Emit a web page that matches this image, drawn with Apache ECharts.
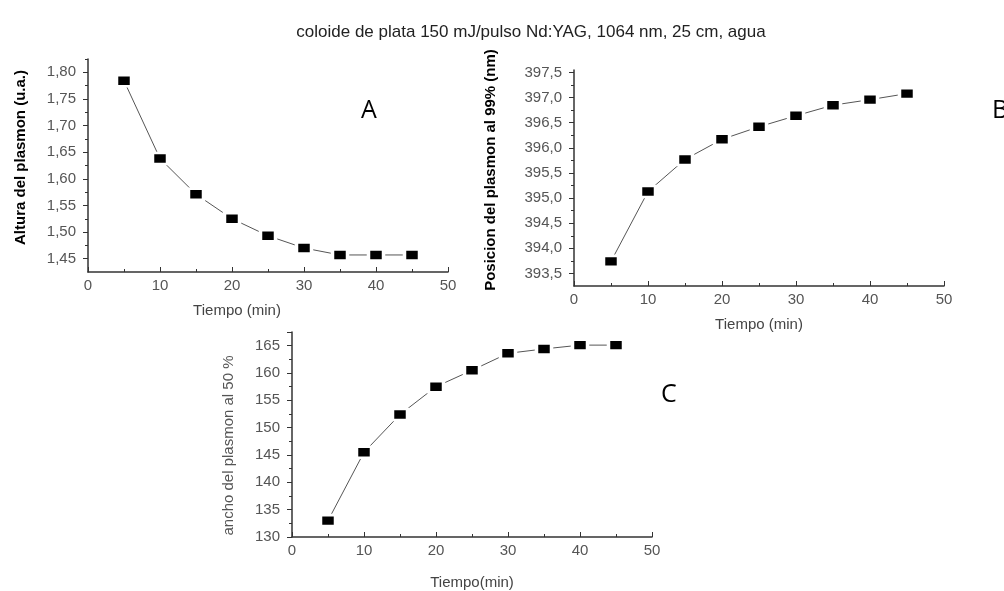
<!DOCTYPE html>
<html>
<head>
<meta charset="utf-8">
<script src="https://cdn.jsdelivr.net/npm/echarts@6/dist/echarts.min.js"></script>
<style>
  html, body { margin: 0; padding: 0; background: #fff; }
  #main { width: 1004px; height: 591px; }
</style>
</head>
<body>
<div id="main"></div>
<script>
// tiempos (min), same for all three panels
const tiempo = [5, 10, 15, 20, 25, 30, 35, 40, 45];

// A: altura del plasmon (u.a.)
const alturaA = [1.784, 1.638, 1.571, 1.525, 1.493, 1.470, 1.457, 1.457, 1.457];
// B: posicion del plasmon al 99% (nm)
const posicionB = [393.74, 395.13, 395.77, 396.17, 396.42, 396.64, 396.85, 396.96, 397.08];
// C: ancho del plasmon al 50 %
const anchoC = [133.0, 145.5, 152.4, 157.5, 160.5, 163.6, 164.4, 165.1, 165.1];

// tick values
const ticksA = [1.45, 1.50, 1.55, 1.60, 1.65, 1.70, 1.75, 1.80];
const minorA = [1.475, 1.525, 1.575, 1.625, 1.675, 1.725, 1.775, 1.825];
const ticksB = [393.5, 394.0, 394.5, 395.0, 395.5, 396.0, 396.5, 397.0, 397.5];
const minorB = [393.75, 394.25, 394.75, 395.25, 395.75, 396.25, 396.75, 397.25];

const chart = echarts.init(document.getElementById('main'));

const axisCol = '#333';
const labelCol = '#555';
const fontFam = '"Liberation Sans", Arial, sans-serif';

function xAxisFor(gridIndex, name, nameGap, padding) {
  return {
    type: 'value', gridIndex, min: 0, max: 50, interval: 10,
    name, nameLocation: 'middle', nameGap,
    nameTextStyle: { color: '#444', fontSize: 15, fontFamily: fontFam, padding: padding || 0 },
    axisLine: { lineStyle: { color: axisCol, width: 1.5 } },
    axisTick: { inside: true, length: 5, lineStyle: { color: axisCol } },
    minorTick: { show: true, splitNumber: 2, length: 3, lineStyle: { color: axisCol } },
    axisLabel: { color: labelCol, fontSize: 15, fontFamily: fontFam, margin: 6 },
    splitLine: { show: false }
  };
}

function yLabels(dec) {
  return v => v.toFixed(dec).replace('.', ',');
}

const series = (xi, yi, data) => ({
  type: 'line', xAxisIndex: xi, yAxisIndex: yi,
  data: tiempo.map((t, i) => [t, data[i]]),
  symbol: 'rect', symbolSize: [15, 11],
  itemStyle: { color: '#000', borderColor: '#fff', borderWidth: 3 },
  lineStyle: { color: '#555', width: 1 },
  animation: false
});

const option = {
  animation: false,
  title: [
    { text: 'coloide de plata 150 mJ/pulso Nd:YAG, 1064 nm, 25 cm, agua', left: 526, top: 19, textAlign: 'center',
      textStyle: { fontSize: 17, fontWeight: 'normal', color: '#222', fontFamily: fontFam } },
    { text: 'A', left: 356, top: 93, textStyle: { fontSize: 25, fontWeight: 'normal', color: '#000', fontFamily: '"Open Sans", sans-serif' } },
    { text: 'B', left: 987, top: 93, textStyle: { fontSize: 25, fontWeight: 'normal', color: '#000', fontFamily: '"Open Sans", sans-serif' } },
    { text: 'C', left: 656, top: 377, textStyle: { fontSize: 25, fontWeight: 'normal', color: '#000', fontFamily: '"Open Sans", sans-serif' } }
  ],
  grid: [
    { left: 88, top: 59, width: 360, height: 213 },
    { left: 574, top: 70, width: 370, height: 216 },
    { left: 292, top: 332, width: 360, height: 211 }
  ],
  xAxis: [
    xAxisFor(0, 'Tiempo (min)', 31, [0, 62, 0, 0]),
    xAxisFor(1, 'Tiempo (min)', 31),
    xAxisFor(2, 'Tiempo(min)', 38)
  ],
  yAxis: [
    {
      type: 'value', gridIndex: 0, position: 'left', min: 1.425, max: 1.825,
      name: 'Altura del plasmon (u.a.)', nameLocation: 'middle', nameGap: 60,
      nameTextStyle: { color: '#000', fontSize: 15, fontWeight: 'bold', fontFamily: fontFam, padding: [0, 0, 0, 16] },
      axisLine: { lineStyle: { color: axisCol, width: 1.5 } },
      axisTick: { length: 5, customValues: ticksA, lineStyle: { color: axisCol } },
      axisLabel: { customValues: ticksA, formatter: yLabels(2), color: labelCol, fontSize: 15, fontFamily: fontFam, margin: 12 },
      splitLine: { show: false }
    },
    {
      type: 'value', gridIndex: 0, position: 'left', offset: 0, min: 1.425, max: 1.825,
      axisLine: { show: false },
      axisTick: { length: 3, customValues: minorA, lineStyle: { color: axisCol } },
      axisLabel: { show: false }, splitLine: { show: false }
    },
    {
      type: 'value', gridIndex: 1, position: 'left', min: 393.25, max: 397.55,
      name: 'Posicion del plasmon al 99% (nm)', nameLocation: 'middle', nameGap: 76,
      nameTextStyle: { color: '#000', fontSize: 15, fontWeight: 'bold', fontFamily: fontFam, padding: [0, 0, 0, 16] },
      axisLine: { lineStyle: { color: axisCol, width: 1.5 } },
      axisTick: { length: 5, customValues: ticksB, lineStyle: { color: axisCol } },
      axisLabel: { customValues: ticksB, formatter: yLabels(1), color: labelCol, fontSize: 15, fontFamily: fontFam, margin: 12 },
      splitLine: { show: false }
    },
    {
      type: 'value', gridIndex: 1, position: 'left', offset: 0, min: 393.25, max: 397.55,
      axisLine: { show: false },
      axisTick: { length: 3, customValues: minorB, lineStyle: { color: axisCol } },
      axisLabel: { show: false }, splitLine: { show: false }
    },
    {
      type: 'value', gridIndex: 2, position: 'left', min: 130, max: 167.5, interval: 5,
      name: 'ancho del plasmon al 50 %', nameLocation: 'middle', nameGap: 56,
      nameTextStyle: { color: '#555', fontSize: 15, fontFamily: fontFam, padding: [0, 22, 0, 0] },
      axisLine: { lineStyle: { color: axisCol, width: 1.5 } },
      axisTick: { length: 5, lineStyle: { color: axisCol } },
      minorTick: { show: true, splitNumber: 2, length: 3, lineStyle: { color: axisCol } },
      axisLabel: { formatter: v => (v > 165 ? '' : String(v)), color: labelCol, fontSize: 15, fontFamily: fontFam, margin: 12 },
      splitLine: { show: false }
    }
  ],
  series: [
    series(0, 0, alturaA),
    series(1, 2, posicionB),
    series(2, 4, anchoC)
  ]
};

chart.setOption(option);
</script>
</body>
</html>
